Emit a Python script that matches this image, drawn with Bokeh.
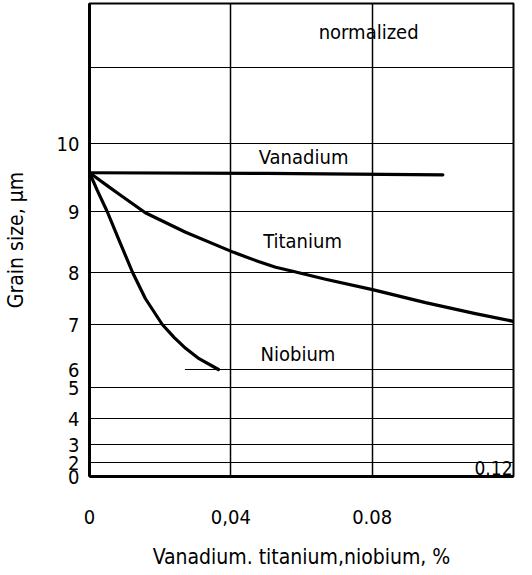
import numpy as np
from bokeh.plotting import figure
from bokeh.models import FixedTicker, Range1d, Label
from bokeh.embed import file_html
from bokeh.resources import INLINE

# ---- data ----
grain_ticks = [0, 2, 3, 4, 5, 6, 7, 8, 9, 10, 11]
grain_tick_labels = ["0", "2", "3", "4", "5", "6", "7", "8", "9", "10", ""]
# the scanned grain-size scale is unevenly ruled: axis position of each rule
grain_tick_pos = [0, 14, 32, 58, 89, 107, 152, 204, 265, 333, 409]

x_ticks = [0, 0.04, 0.08, 0.12]
x_tick_labels = ["0", "0,04", "0.08", ""]
x_corner_label = "0.12"

vanadium_x = [0.0, 0.05, 0.10]
vanadium_y = [9.57, 9.56, 9.54]

titanium_x = [0.0, 0.005, 0.0085, 0.0158, 0.0272, 0.0408, 0.0478, 0.0527, 0.0575, 0.0668, 0.0801, 0.0951, 0.1092, 0.12]
titanium_y = [9.57, 9.38, 9.25, 8.98, 8.66, 8.33, 8.18, 8.085, 8.02, 7.87, 7.67, 7.42, 7.21, 7.06]

niobium_x = [0.0, 0.0022, 0.005, 0.0085, 0.0122, 0.0158, 0.0206, 0.024, 0.0272, 0.031, 0.0365]
niobium_y = [9.57, 9.31, 9.00, 8.51, 8.00, 7.50, 7.00, 6.71, 6.47, 6.24, 6.00]

series_names = ["Vanadium", "Titanium", "Niobium"]
panel_title = "normalized"
x_title = "Vanadium. titanium,niobium, %"
y_title = "Grain size, \u00b5m"

# ---- styling / layout ----
FONT = "DejaVu Sans Condensed, DejaVu Sans"
six_rule_start = 0.027


def ypos(g):
    return np.interp(g, grain_ticks, grain_tick_pos)


p = figure(width=532, height=575, output_backend="svg", toolbar_location=None,
           x_range=Range1d(0, 0.12), y_range=Range1d(0, 473),
           min_border_left=89, min_border_right=19, min_border_top=3,
           min_border_bottom=99, background_fill_color="white",
           border_fill_color="white")

p.outline_line_color = "black"
p.outline_line_width = 2

# axes
for ax in (p.xaxis[0], p.yaxis[0]):
    ax.axis_line_width = 3
    ax.axis_line_color = "black"
    ax.major_tick_in = 0
    ax.major_tick_out = 0
    ax.minor_tick_in = 0
    ax.minor_tick_out = 0
    ax.major_label_text_font = FONT
    ax.major_label_text_color = "black"
    ax.axis_label_text_font = FONT
    ax.axis_label_text_font_style = "normal"
    ax.axis_label_text_color = "black"

p.xaxis.ticker = FixedTicker(ticks=x_ticks)
p.xaxis.major_label_overrides = {t: l for t, l in zip(x_ticks, x_tick_labels)}
p.xaxis.major_label_text_font_size = "20px"
p.xaxis.major_label_standoff = 33
p.xaxis.axis_label = x_title
p.xaxis.axis_label_text_font_size = "21px"
p.xaxis.axis_label_standoff = 18

y_label_pos = [pos for pos, lab in zip(grain_tick_pos, grain_tick_labels) if lab]
p.yaxis.ticker = FixedTicker(ticks=y_label_pos)
p.yaxis.major_label_overrides = {pos: lab for pos, lab in zip(grain_tick_pos, grain_tick_labels) if lab}
p.yaxis.major_label_text_font_size = "20px"
p.yaxis.major_label_standoff = 10
p.yaxis.axis_label = y_title
p.yaxis.axis_label_text_font_size = "21px"
p.yaxis.axis_label_standoff = 26

# grid rules
p.xgrid.ticker = FixedTicker(ticks=[0.04, 0.08])
p.xgrid.grid_line_color = "black"
p.xgrid.grid_line_width = 1.5
p.ygrid.ticker = FixedTicker(ticks=[pos for g, pos in zip(grain_ticks, grain_tick_pos) if g not in (0, 6)])
p.ygrid.grid_line_color = "black"
p.ygrid.grid_line_width = 1.2

six_pos = float(ypos(6))
p.segment(x0=[six_rule_start], y0=[six_pos], x1=[x_ticks[-1]], y1=[six_pos],
          line_color="black", line_width=1.2)

# curves
for xs, ys in ((vanadium_x, vanadium_y), (titanium_x, titanium_y), (niobium_x, niobium_y)):
    p.line(xs, ypos(ys), line_color="black", line_width=3.2, line_join="round", line_cap="round")

# in-plot labels (centres)
label_specs = [
    (series_names[0], 0.0606, 320),
    (series_names[1], 0.0603, 236),
    (series_names[2], 0.0590, 123),
    (panel_title, 0.0790, 445),
]
for txt, lx, ly in label_specs:
    p.add_layout(Label(x=lx, y=ly, text=txt, text_font=FONT, text_font_size="20px",
                       text_align="center", text_baseline="middle", text_color="black"))

p.add_layout(Label(x=x_ticks[-1], y=9, text=x_corner_label, text_font=FONT,
                   text_font_size="19px", text_align="right", text_baseline="middle",
                   x_offset=-1, text_color="black"))

open("out.html", "w").write(file_html(p, INLINE))
